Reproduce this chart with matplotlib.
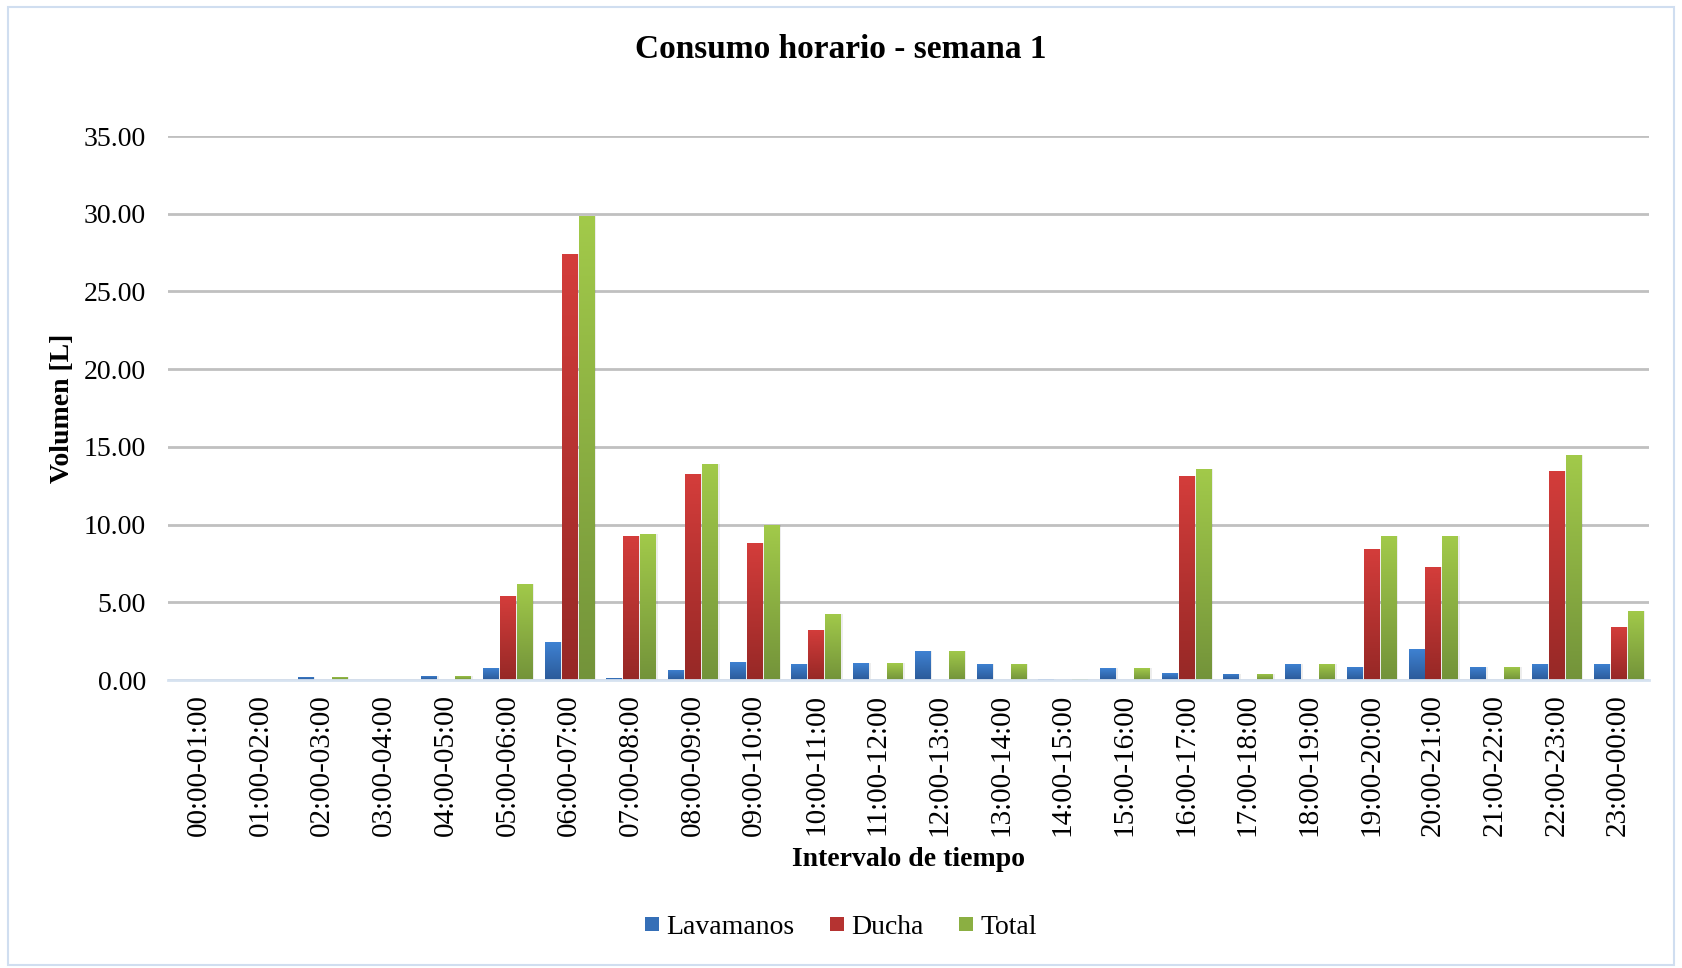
#!/usr/bin/env python
# hourly water consumption, week 1: grouped bars with a vertical shading
import numpy as np
import matplotlib.pyplot as plt
import matplotlib.patches as mpatches
from matplotlib.lines import Line2D
from matplotlib.colors import LinearSegmentedColormap

intervals = ['%02d:00-%02d:00' % (h, (h + 1) % 24) for h in range(24)]
lavamanos = [0.00, 0.00, 0.20, 0.00, 0.28, 0.80, 2.45, 0.13, 0.65, 1.17, 1.03, 1.09,
             1.87, 1.03, 0.06, 0.77, 0.45, 0.39, 1.03, 0.84, 2.00, 0.84, 1.03, 1.03]
ducha = [0.00, 0.00, 0.00, 0.00, 0.00, 5.40, 27.40, 9.27, 13.25, 8.83, 3.22, 0.00,
         0.00, 0.00, 0.00, 0.00, 13.15, 0.00, 0.00, 8.43, 7.27, 0.00, 13.45, 3.41]
total = [0.00, 0.00, 0.20, 0.00, 0.28, 6.20, 29.85, 9.40, 13.90, 10.00, 4.25, 1.09,
         1.87, 1.03, 0.06, 0.77, 13.60, 0.39, 1.03, 9.27, 9.27, 0.84, 14.48, 4.44]

series = [('Lavamanos', lavamanos, '#3f83d4', '#2b5a99'),
          ('Ducha', ducha, '#d43d3b', '#962826'),
          ('Total', total, '#a2ca4a', '#73933a')]

plt.rcParams['font.family'] = ['Liberation Serif', 'DejaVu Serif']

fig = plt.figure(figsize=(16.82, 9.68), dpi=100)
ax = fig.add_axes([0.0999, 0.2975, 0.8805, 0.562])

ind = np.arange(len(intervals))
width = 0.245
step = 0.275
grad = np.linspace(1, 0, 256).reshape(-1, 1)

handles = []
for i, (name, vals, top, bottom) in enumerate(series):
    cmap = LinearSegmentedColormap.from_list(name, [bottom, top])
    x = ind + (i - 1) * step
    # faint drop shadow
    ax.bar(x + 0.025, vals, width + 0.03, color='k', alpha=0.07, zorder=2,
           linewidth=0)
    bars = ax.bar(x, vals, width, color='none', linewidth=0, zorder=3)
    for b in bars:
        h = b.get_height()
        if h <= 0:
            continue
        x0 = b.get_x()
        im = ax.imshow(grad, cmap=cmap, aspect='auto', zorder=3,
                       extent=[x0, x0 + width, 0, h], interpolation='bilinear')
        im.set_clip_path(b)
    handles.append(Line2D([], [], marker='s', linestyle='none', markersize=10.5,
                          markerfacecolor=cmap(0.5), markeredgewidth=0))

ax.set_xlim(-0.5, len(intervals) - 0.5)
ax.set_ylim(0, 35)
ax.set_yticks(np.arange(0, 36, 5))
ax.set_yticklabels(['%.2f' % v for v in np.arange(0, 36, 5)], fontsize=20)
ax.set_xticks(ind)
ax.set_xticklabels(intervals, rotation=90, fontsize=21)
ax.tick_params(length=0)
ax.tick_params(axis='y', pad=16)
ax.tick_params(axis='x', pad=10)
ax.yaxis.grid(True, color='#c0c0c0', linewidth=2)
ax.set_axisbelow(True)
for s in ['top', 'right', 'left']:
    ax.spines[s].set_visible(False)
ax.spines['bottom'].set_color('#d6e2f0')
ax.spines['bottom'].set_linewidth(2)
ax.spines['bottom'].set_zorder(4)

ax.set_ylabel('Volumen [L]', fontsize=20, fontweight='bold', labelpad=6)
ax.set_xlabel('Intervalo de tiempo', fontsize=20, fontweight='bold', labelpad=8)
fig.text(0.5, 0.949, 'Consumo horario - semana 1', ha='center', va='center',
         fontsize=24, fontweight='bold')

fig.legend(handles, [s[0] for s in series], loc='center', ncol=3,
           bbox_to_anchor=(0.5, 0.042), frameon=False, fontsize=20,
           handlelength=0.5, handletextpad=0.25, columnspacing=1.3)

fig.patches.append(mpatches.Rectangle((0.005, 0.003), 0.99, 0.99,
                                      transform=fig.transFigure, fill=False,
                                      edgecolor='#d0def0', linewidth=1.5))

fig.savefig('out.png', dpi=100)
